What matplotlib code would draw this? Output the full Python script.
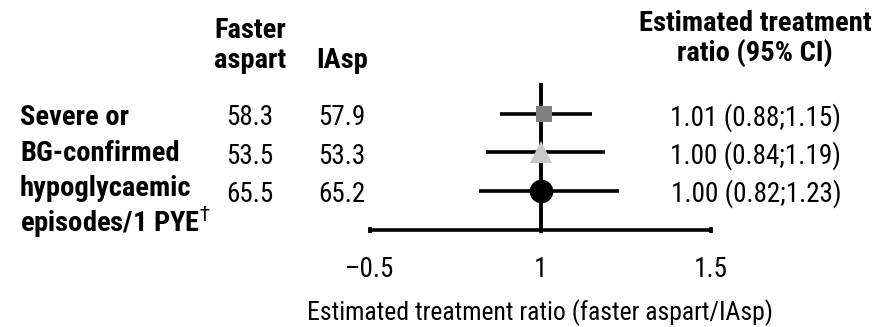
import matplotlib.pyplot as plt
from matplotlib.transforms import blended_transform_factory

# Forest plot data
label_lines = ['Severe or', 'BG-confirmed', 'hypoglycaemic', r'episodes/1 PYE$^{\dagger}$']
faster_aspart = ['58.3', '53.5', '65.5']
iasp = ['57.9', '53.3', '65.2']
ratio = [1.01, 1.00, 1.00]
ci_low = [0.88, 0.84, 0.82]
ci_high = [1.15, 1.19, 1.23]
markers = ['s', '^', 'o']
marker_colors = ['#808080', '#c8c8c8', '#000000']
marker_sizes = [11.5, 16.5, 17]
tick_values = [0.5, 1, 1.5]
tick_labels = ['\u20130.5', '1', '1.5']

W, H = 877, 327
plt.rcParams['font.family'] = ['Roboto Condensed', 'Archivo Narrow', 'DejaVu Sans']
FS = 19.5      # values and ticks
FS_B = 20.5    # bold headers and row labels
FS_X = 18.5    # axis title

fig = plt.figure(figsize=(W / 100, H / 100), dpi=100)
fig.patch.set_facecolor('white')

# Axes spans the 0.5-1.5 range of the scale
ax = fig.add_axes([370 / W, 1 - 230 / H, 341 / W, (230 - 83) / H])
ax.set_xlim(0.5, 1.5)
ax.set_ylim(3.03, -0.81)
for s in ['top', 'right', 'left']:
    ax.spines[s].set_visible(False)
ax.spines['bottom'].set_linewidth(2.6)
ax.set_yticks([])
ax.set_xticks(tick_values)
ax.set_xticklabels(tick_labels, fontsize=FS)
ax.tick_params(axis='x', which='major', direction='inout', length=5, width=2.6, pad=16)
ax.set_xticks([1], minor=True)
ax.tick_params(axis='x', which='minor', direction='out', length=6, width=2.8)

ax.axvline(1, color='black', lw=2.8, zorder=1)

for i in range(3):
    ax.plot([ci_low[i], ci_high[i]], [i, i], color='black', lw=2.6,
            solid_capstyle='butt', zorder=2)
    ax.plot(ratio[i], i, marker=markers[i], color=marker_colors[i],
            markersize=marker_sizes[i], markeredgewidth=0, zorder=3)

# Outcome label, one line per row
for i, line in enumerate(label_lines):
    fig.text(20 / W, 1 - (125 + 35.5 * i) / H, line, ha='left', va='baseline',
             fontsize=FS_B, fontweight='bold')

# Value columns: x in figure fraction, y in row units
tr = blended_transform_factory(fig.transFigure, ax.transData)
for i in range(3):
    y = i + 0.3
    ax.text(250 / W, y, faster_aspart[i], transform=tr, ha='center',
            va='baseline', fontsize=FS, clip_on=False)
    ax.text(342 / W, y, iasp[i], transform=tr, ha='center',
            va='baseline', fontsize=FS, clip_on=False)
    ax.text(756 / W, y, f'{ratio[i]:.2f} ({ci_low[i]:.2f};{ci_high[i]:.2f})',
            transform=tr, ha='center', va='baseline', fontsize=FS, clip_on=False)

# Column headers
hdr = dict(fontsize=FS_B, fontweight='bold', va='baseline')
fig.text(250 / W, 1 - 38 / H, 'Faster', ha='center', **hdr)
fig.text(250 / W, 1 - 68 / H, 'aspart', ha='center', **hdr)
fig.text(342 / W, 1 - 68 / H, 'IAsp', ha='center', **hdr)
fig.text(755 / W, 1 - 31 / H, 'Estimated treatment', ha='center', **hdr)
fig.text(755 / W, 1 - 61 / H, 'ratio (95% CI)', ha='center', **hdr)

fig.text(540 / W, 1 - 320 / H, 'Estimated treatment ratio (faster aspart/IAsp)',
         ha='center', va='baseline', fontsize=FS_X)

fig.savefig('out.png', dpi=100)
